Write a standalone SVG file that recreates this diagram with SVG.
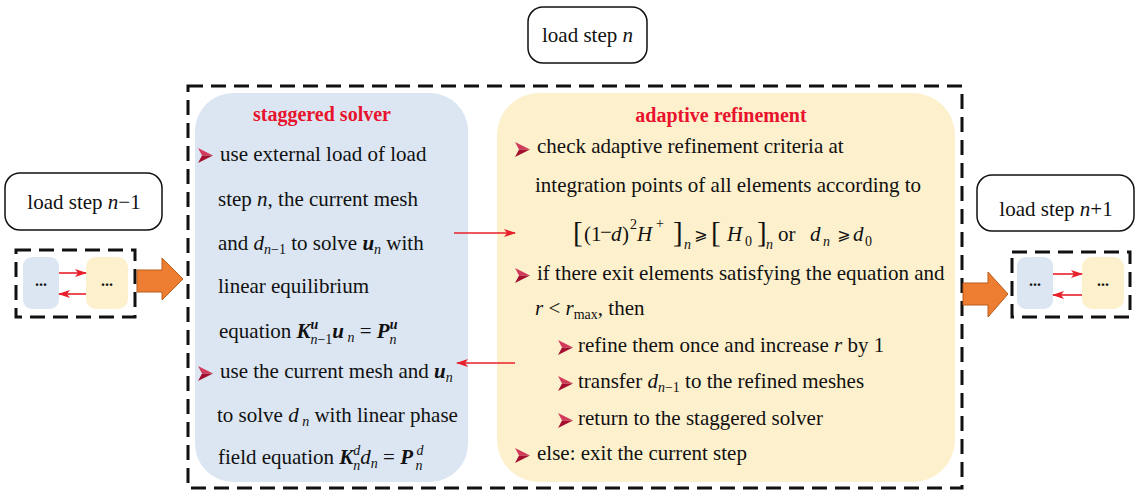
<svg xmlns="http://www.w3.org/2000/svg" width="1137" height="491" viewBox="0 0 1137 491">
<style>
text{font-family:"Liberation Serif","Times New Roman",serif;font-size:21px;fill:#111}
.i{font-style:italic}
.bi{font-style:italic;font-weight:bold}
.s{font-size:14px}
.title{font-weight:bold;font-size:20px;fill:#e8132d;text-anchor:middle}
.lbl{stroke:#111;stroke-width:1.5;fill:#fff}
.dash{fill:none;stroke:#111;stroke-width:3;stroke-dasharray:15 8}
.blue{fill:#dbe6f2}
.yel{fill:#fdf0cd}
.red{stroke:#e8202a;stroke-width:1.6;fill:none}
.orange{fill:#ed7d31;stroke:#b85c1c;stroke-width:1}
.dots{font-size:16px;text-anchor:middle;font-weight:bold}
.geq{font-family:"DejaVu Sans",sans-serif;font-size:16px}
.br{font-size:29px}
</style>
<defs>
<marker id="ah" viewBox="0 0 12 8" refX="11" refY="4" markerWidth="12" markerHeight="8" markerUnits="userSpaceOnUse" orient="auto">
<path d="M0,0 L12,4 L0,8 L3,4 Z" fill="#e8202a"/>
</marker>
<g id="bul">
<path d="M0,0 L15,7.5 L4,7.5 Z" fill="#d23a5c"/>
<path d="M4,7.5 L15,7.5 L0,15 Z" fill="#a3102f"/>
</g>
</defs>

<g id="node-load-n">
<rect class="lbl" x="528" y="7" width="119" height="56" rx="15"/>
<text x="587.5" y="42" text-anchor="middle">load step <tspan class="i">n</tspan></text>
</g>

<g id="node-load-n-minus-1">
<rect class="lbl" x="5" y="173" width="157" height="57" rx="15"/>
<text x="84" y="209" text-anchor="middle">load step <tspan class="i">n</tspan>−1</text>
</g>

<g id="node-load-n-plus-1">
<rect class="lbl" x="977" y="175" width="157" height="56" rx="15"/>
<text x="1056" y="216" text-anchor="middle">load step <tspan class="i">n</tspan>+1</text>
</g>

<g id="node-prev-step">
<rect class="dash" x="16" y="250" width="119" height="67"/>
<rect class="blue" x="23" y="257" width="36" height="52" rx="9"/>
<rect class="yel" x="86" y="257" width="42" height="52" rx="10"/>
<text class="dots" x="41" y="286">...</text>
<text class="dots" x="107" y="286">...</text>
</g>

<g id="node-next-step">
<rect class="dash" x="1012" y="252" width="118" height="65"/>
<rect class="blue" x="1017" y="257" width="36" height="52" rx="9"/>
<rect class="yel" x="1082" y="257" width="42" height="52" rx="10"/>
<text class="dots" x="1035" y="286">...</text>
<text class="dots" x="1103" y="286">...</text>
</g>

<g id="node-current-step">
<rect class="dash" x="188" y="86" width="774" height="402"/>
</g>

<g id="node-staggered-solver">
<rect class="blue" x="195" y="93" width="273" height="389" rx="38"/>
<text class="title" x="322" y="121">staggered solver</text>
<use href="#bul" x="198" y="148"/>
<text x="220" y="161">use external load of load</text>
<text x="218" y="206">step <tspan class="i">n</tspan>, the current mesh</text>
<text x="218" y="250">and <tspan class="i">d</tspan><tspan class="s" dy="4"><tspan class="i">n</tspan>−1</tspan><tspan dy="-4"> to solve </tspan><tspan class="bi">u</tspan><tspan class="s i" dy="4">n</tspan><tspan dy="-4"> with</tspan></text>
<text x="218" y="293">linear equilibrium</text>
<text x="219" y="338">equation <tspan class="bi">K</tspan><tspan class="s bi" dy="-9">u</tspan><tspan class="s" dx="-8" dy="15"><tspan class="i">n</tspan>−1</tspan><tspan class="bi" dy="-6">u</tspan><tspan class="s i" dy="4"> n</tspan><tspan dy="-4">  = </tspan><tspan class="bi">P</tspan><tspan class="s bi" dy="-9">u</tspan><tspan class="s i" dx="-8" dy="15">n</tspan></text>
<use href="#bul" x="198" y="366"/>
<text x="220" y="378">use the current mesh and <tspan class="bi">u</tspan><tspan class="s i" dy="4">n</tspan></text>
<text x="217" y="422">to solve <tspan class="i">d</tspan><tspan class="s i" dy="4"> n</tspan><tspan dy="-4"> with linear phase</tspan></text>
<text x="218" y="464">field equation <tspan class="bi">K</tspan><tspan class="s i" dy="-9">d</tspan><tspan class="s i" dx="-7" dy="15">n</tspan><tspan class="i" dy="-6">d</tspan><tspan class="s i" dy="4">n</tspan><tspan dy="-4"> = </tspan><tspan class="bi">P</tspan><tspan class="s i" dy="-9"> d</tspan><tspan class="s i" dx="-8" dy="15">n</tspan></text>
</g>

<g id="node-adaptive-refinement">
<rect class="yel" x="497" y="93" width="458" height="389" rx="42"/>
<text class="title" x="721" y="122">adaptive refinement</text>
<use href="#bul" x="515" y="142"/>
<text x="537" y="153">check adaptive refinement criteria  at</text>
<text x="535" y="192">integration points of all elements according to</text>
<g id="criteria-eq">
<text class="br" x="573" y="242">[</text>
<text x="584" y="241">(</text>
<text x="591" y="241">1</text>
<text x="600" y="239" font-size="14">−</text>
<text class="i" x="611" y="241">d</text>
<text x="622" y="241">)</text>
<text class="s" x="630" y="229">2</text>
<text class="i" x="637" y="241">H</text>
<text class="s" x="656" y="228">+</text>
<text class="br" x="673" y="242">]</text>
<text class="s i" x="684" y="249">n</text>
<text class="geq" x="694" y="240">⩾</text>
<text class="br" x="711" y="242">[</text>
<text class="i" x="727" y="241">H</text>
<text class="s" x="745" y="246">0</text>
<text class="br" x="757" y="242">]</text>
<text class="s i" x="766" y="249">n</text>
<text x="778" y="241">or</text>
<text class="i" x="810" y="241">d</text>
<text class="s i" x="823" y="246">n</text>
<text class="geq" x="837" y="240">⩾</text>
<text class="i" x="853" y="241">d</text>
<text class="s" x="865" y="246">0</text>
</g>
<use href="#bul" x="515" y="268"/>
<text x="537" y="280">if there exit elements satisfying the equation and</text>
<text x="535" y="315"><tspan class="i">r</tspan> &lt; <tspan class="i">r</tspan><tspan class="s" dy="4">max</tspan><tspan dy="-4">, then</tspan></text>
<use href="#bul" x="558" y="340"/>
<text x="578" y="352">refine them once and increase <tspan class="i">r</tspan> by 1</text>
<use href="#bul" x="558" y="376"/>
<text x="578" y="388">transfer <tspan class="i">d</tspan><tspan class="s" dy="4"><tspan class="i">n</tspan>−1</tspan><tspan dy="-4"> to the refined meshes</tspan></text>
<use href="#bul" x="558" y="413"/>
<text x="578" y="425">return to the staggered solver</text>
<use href="#bul" x="515" y="448"/>
<text x="537" y="460">else: exit the current step</text>
</g>

<g id="connectors">
<line class="red" x1="454" y1="233" x2="515" y2="233" marker-end="url(#ah)"/>
<line class="red" x1="515" y1="363" x2="457" y2="363" marker-end="url(#ah)"/>
<line class="red" x1="59" y1="273" x2="86" y2="273" marker-end="url(#ah)"/>
<line class="red" x1="86" y1="294" x2="59" y2="294" marker-end="url(#ah)"/>
<line class="red" x1="1053" y1="274" x2="1082" y2="274" marker-end="url(#ah)"/>
<line class="red" x1="1082" y1="295" x2="1053" y2="295" marker-end="url(#ah)"/>
<path class="orange" d="M137,270 H162 V258 L183,279 L162,300 V292 H137 Z"/>
<path class="orange" d="M963,283 H988 V272 L1008,294 L988,317 V305 H963 Z"/>
</g>
</svg>
